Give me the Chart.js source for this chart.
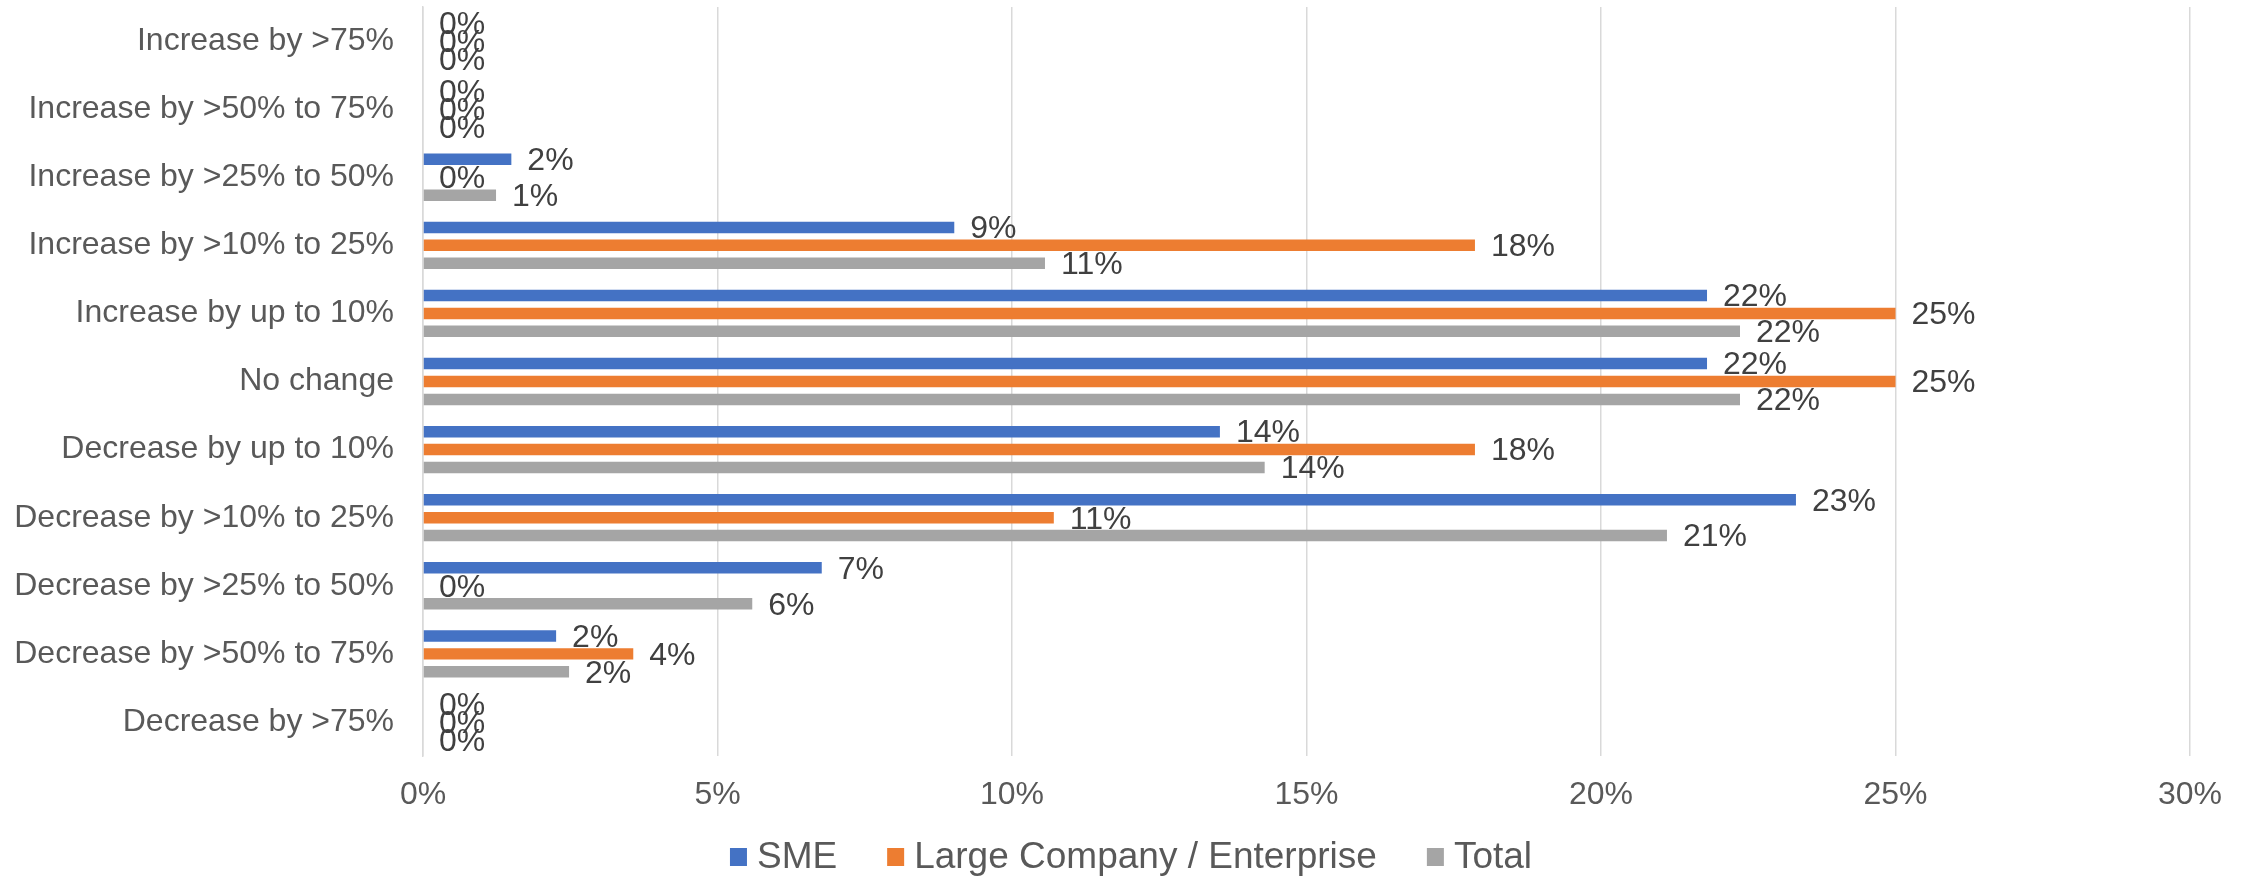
<!DOCTYPE html>
<html>
<head>
<meta charset="utf-8">
<script src="https://cdn.jsdelivr.net/npm/chart.js@4"></script>
<style>
    body { margin: 0; background: #fff; }
    #wrap { width: 2244px; height: 876px; position: relative; }
</style>
</head>
<body>
<div id="wrap"><canvas id="js--chart"></canvas></div>
<script>
/* data uit de grafiek */
const categories = [
    "Increase by >75%",
    "Increase by >50% to 75%",
    "Increase by >25% to 50%",
    "Increase by >10% to 25%",
    "Increase by up to 10%",
    "No change",
    "Decrease by up to 10%",
    "Decrease by >10% to 25%",
    "Decrease by >25% to 50%",
    "Decrease by >50% to 75%",
    "Decrease by >75%"
];

const sme = [0, 0, 1.5, 9.02, 21.8, 21.8, 13.53, 23.31, 6.77, 2.26, 0];
const large = [0, 0, 0, 17.86, 25, 25, 17.86, 10.71, 0, 3.57, 0];
const total = [0, 0, 1.24, 10.56, 22.36, 22.36, 14.29, 21.12, 5.59, 2.48, 0];

const seriesNames = ["SME", "Large Company / Enterprise", "Total"];
const seriesColors = ["#4472C4", "#ED7D31", "#A5A5A5"];

const font = "'Liberation Sans', Arial, sans-serif";

// labels achter elke balk
const barLabels = {
    id: "barLabels",
    afterDatasetsDraw: function (chart) {
        const ctx = chart.ctx;
        ctx.save();
        ctx.font = "32px " + font;
        ctx.fillStyle = "#404040";
        ctx.textAlign = "left";
        ctx.textBaseline = "middle";
        chart.data.datasets.forEach(function (ds, i) {
            const meta = chart.getDatasetMeta(i);
            meta.data.forEach(function (bar, j) {
                ctx.fillText(Math.round(ds.data[j]) + "%", bar.x + 16, bar.y + 2);
            });
        });
        ctx.restore();
    }
};

// legenda onderaan zelf tekenen (ingebouwde legenda botst met de x-as labels)
const bottomLegend = {
    id: "bottomLegend",
    afterDraw: function (chart) {
        const ctx = chart.ctx;
        const y = 857;
        const box = 17;
        const gapText = 10;
        const gapItem = 50;
        ctx.save();
        ctx.font = "37px " + font;
        ctx.textBaseline = "middle";
        ctx.textAlign = "left";
        const widths = chart.data.datasets.map(function (ds) {
            return box + gapText + ctx.measureText(ds.label).width;
        });
        let totalWidth = gapItem * (widths.length - 1);
        widths.forEach(function (w) { totalWidth += w; });
        let x = 1131 - totalWidth / 2;
        chart.data.datasets.forEach(function (ds, i) {
            ctx.fillStyle = ds.backgroundColor;
            ctx.fillRect(x, y - 9, box, 18);
            ctx.fillStyle = "#595959";
            ctx.fillText(ds.label, x + box + gapText, y + 1);
            x = x + widths[i] + gapItem;
        });
        ctx.restore();
    }
};

const data = {
    labels: categories,
    datasets: [
        { label: seriesNames[0], data: sme, backgroundColor: seriesColors[0] },
        { label: seriesNames[1], data: large, backgroundColor: seriesColors[1] },
        { label: seriesNames[2], data: total, backgroundColor: seriesColors[2] }
    ]
};

const config = {
    type: "bar",
    data: data,
    plugins: [barLabels, bottomLegend],
    options: {
        indexAxis: "y",
        responsive: true,
        maintainAspectRatio: false,
        animation: false,
        devicePixelRatio: 1,
        categoryPercentage: 0.79,
        barPercentage: 0.64,
        layout: { padding: { top: 7, right: 54, left: 0, bottom: 0 } },
        scales: {
            x: {
                min: 0,
                max: 30,
                afterFit: function (scale) { scale.height = 120; },
                grid: { color: "#D9D9D9", lineWidth: 1.5, drawTicks: false },
                border: { display: false },
                ticks: {
                    stepSize: 5,
                    padding: 20,
                    color: "#595959",
                    font: { family: font, size: 32 },
                    callback: function (v) { return v + "%"; }
                }
            },
            y: {
                afterFit: function (scale) {
                    scale.width = 423;
                    scale.paddingTop = 0;
                    scale.paddingBottom = 0;
                },
                grid: { display: false, drawTicks: false },
                border: { display: true, color: "#D9D9D9", width: 1.5 },
                ticks: {
                    padding: 29,
                    color: "#595959",
                    font: { family: font, size: 32 }
                }
            }
        },
        plugins: {
            tooltip: { enabled: false },
            legend: { display: false }
        }
    }
};

new Chart(document.getElementById("js--chart"), config);
</script>
</body>
</html>
